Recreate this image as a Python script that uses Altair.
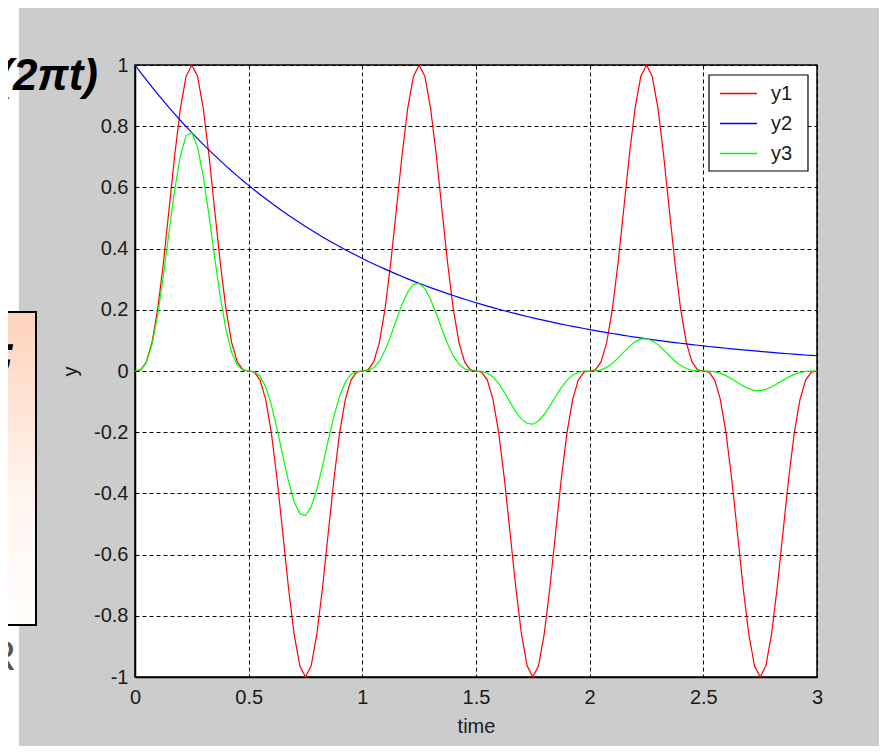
import altair as alt
import pandas as pd

# ---------------- data ----------------
time = [i / 40 for i in range(121)]  # sampling grid 0 .. 3 in steps of 0.025

y1 = [0, .0038, .0295, .0936, .2031, .3536, .5295, .7074, .8602, .9636, 1, .9636, .8602, .7074, .5295, .3536, .2031, .0936, .0295, .0038,
      0, -.0038, -.0295, -.0936, -.2031, -.3536, -.5295, -.7074, -.8602, -.9636, -1, -.9636, -.8602, -.7074, -.5295, -.3536, -.2031, -.0936, -.0295, -.0038,
      0, .0038, .0295, .0936, .2031, .3536, .5295, .7074, .8602, .9636, 1, .9636, .8602, .7074, .5295, .3536, .2031, .0936, .0295, .0038,
      0, -.0038, -.0295, -.0936, -.2031, -.3536, -.5295, -.7074, -.8602, -.9636, -1, -.9636, -.8602, -.7074, -.5295, -.3536, -.2031, -.0936, -.0295, -.0038,
      0, .0038, .0295, .0936, .2031, .3536, .5295, .7074, .8602, .9636, 1, .9636, .8602, .7074, .5295, .3536, .2031, .0936, .0295, .0038,
      0, -.0038, -.0295, -.0936, -.2031, -.3536, -.5295, -.7074, -.8602, -.9636, -1, -.9636, -.8602, -.7074, -.5295, -.3536, -.2031, -.0936, -.0295, -.0038,
      0]

y2 = [1.0, .9753, .9512, .9277, .9048, .8825, .8607, .8395, .8187, .7985, .7788, .7596, .7408, .7225, .7047, .6873, .6703, .6538, .6376, .6219,
      .6065, .5916, .5769, .5627, .5488, .5353, .5220, .5092, .4966, .4843, .4724, .4607, .4493, .4382, .4274, .4169, .4066, .3965, .3867, .3772,
      .3679, .3588, .3499, .3413, .3329, .3247, .3166, .3088, .3012, .2938, .2865, .2794, .2725, .2658, .2592, .2528, .2466, .2405, .2346, .2288,
      .2231, .2176, .2122, .2070, .2019, .1969, .1920, .1873, .1827, .1782, .1738, .1695, .1653, .1612, .1572, .1534, .1496, .1459, .1423, .1388,
      .1353, .1320, .1287, .1256, .1225, .1194, .1165, .1136, .1108, .1081, .1054, .1028, .1003, .0978, .0954, .0930, .0907, .0885, .0863, .0842,
      .0821, .0801, .0781, .0762, .0743, .0724, .0707, .0689, .0672, .0655, .0639, .0623, .0608, .0593, .0578, .0564, .0550, .0537, .0523, .0511,
      .0498]

y3 = [0, .0037, .0281, .0868, .1838, .3120, .4557, .5939, .7042, .7694, .7788, .7320, .6372, .5111, .3731, .2430, .1361, .0612, .0188, .0024,
      0, -.0022, -.0170, -.0527, -.1115, -.1893, -.2764, -.3602, -.4272, -.4667, -.4724, -.4439, -.3865, -.3100, -.2263, -.1474, -.0826, -.0371, -.0114, -.0014,
      0, .0014, .0103, .0319, .0676, .1148, .1677, .2185, .2591, .2831, .2865, .2693, .2344, .1880, .1373, .0894, .0501, .0225, .0069, .0009,
      0, -.0008, -.0063, -.0194, -.0410, -.0696, -.1017, -.1325, -.1572, -.1717, -.1738, -.1633, -.1422, -.1140, -.0833, -.0542, -.0304, -.0136, -.0042, -.0005,
      0, .0005, .0038, .0117, .0249, .0422, .0617, .0804, .0953, .1041, .1054, .0990, .0862, .0692, .0505, .0329, .0184, .0083, .0025, .0003,
      0, -.0003, -.0023, -.0071, -.0151, -.0256, -.0374, -.0487, -.0578, -.0631, -.0639, -.0601, -.0523, -.0419, -.0306, -.0199, -.0112, -.0050, -.0015, -.0002,
      0]

series_names = ["y1", "y2", "y3"]
series_colors = ["#ff0000", "#0000ff", "#00ff00"]
x_ticks = [0, 0.5, 1, 1.5, 2, 2.5, 3]
y_ticks = [-1, -0.8, -0.6, -0.4, -0.2, 0, 0.2, 0.4, 0.6, 0.8, 1]

rows = []
for name, vals in zip(series_names, [y1, y2, y3]):
    for t, v in zip(time, vals):
        rows.append({"time": t, "y": v, "series": name})
df = pd.DataFrame(rows)
deco = pd.DataFrame({"k": [0]})

W, H = 682, 612
FONT = "Liberation Sans, Arial, sans-serif"
TXT = "#1a1a1a"

lines = alt.Chart(df).mark_line(strokeWidth=1.2).encode(
    x=alt.X("time:Q",
            scale=alt.Scale(domain=[0, 3], nice=False, zero=False),
            axis=alt.Axis(values=x_ticks, title="time", labelExpr="format(datum.value, '~g')",
                          labelFlush=False, labelPadding=10, titleY=39)),
    y=alt.Y("y:Q",
            scale=alt.Scale(domain=[-1, 1], nice=False, zero=False),
            axis=alt.Axis(values=y_ticks, title="y",
                          labelExpr="abs(datum.value) < 1e-9 ? '0' : (datum.value < 0 ? '-' : '') + format(abs(datum.value), '~g')",
                          labelFlush=False, labelPadding=7, titleX=-55, titleY=306)),
    color=alt.Color("series:N",
                    scale=alt.Scale(domain=series_names, range=series_colors),
                    legend=alt.Legend(title=None, orient="none", legendX=581, legendY=6,
                                      direction="vertical", symbolType="stroke", symbolSize=1369,
                                      symbolStrokeWidth=1.5, labelFontSize=20, labelFont=FONT,
                                      labelColor=TXT, rowPadding=0, labelOffset=13)),
)

# legend frame (MATLAB style box behind the legend entries)
legend_box = alt.Chart(deco).mark_rect(fill="white", stroke="black", strokeWidth=1.2).encode(
    x=alt.value(574), x2=alt.value(673), y=alt.value(10), y2=alt.value(106))

# slide fragments around the figure window
white_strip = alt.Chart(deco).mark_rect(color="white").encode(
    x=alt.value(-127), x2=alt.value(-116), y=alt.value(-57), y2=alt.value(690))

grad = alt.LinearGradient(gradient="linear", x1=0, y1=0, x2=0, y2=1,
                          stops=[alt.GradientStop(color="#fdd2ba", offset=0),
                                 alt.GradientStop(color="#fff6f1", offset=0.6),
                                 alt.GradientStop(color="#fffdfc", offset=1)])
box = alt.Chart(deco).mark_rect(fill=grad, stroke="black", strokeWidth=2).encode(
    x=alt.value(-145), x2=alt.value(-99), y=alt.value(247), y2=alt.value(560))

eq_text = alt.Chart(deco).mark_text(text="(2πt)", font=FONT, fontSize=44, fontWeight="bold",
                                    fontStyle="italic", align="right", baseline="alphabetic",
                                    color="black").encode(x=alt.value(-37), y=alt.value(25))
semi_text = alt.Chart(deco).mark_text(text=");", font=FONT, fontSize=40, fontWeight="bold",
                                      fontStyle="italic", align="right", baseline="alphabetic",
                                      color="black").encode(x=alt.value(-120), y=alt.value(300))
r_text = alt.Chart(deco).mark_text(text="R", font=FONT, fontSize=42, align="right",
                                   baseline="alphabetic", color="#555555").encode(
    x=alt.value(-119), y=alt.value(605))

chart = alt.layer(white_strip, box, eq_text, semi_text, r_text, lines, legend_box).properties(
    width=W, height=H,
    title=alt.TitleParams("Exercise 1", font=FONT, fontSize=20, fontWeight="normal",
                          color=TXT, offset=18, anchor="middle"),
    autosize=alt.AutoSizeParams(type="none"),
    padding={"left": 127, "top": 57, "right": 62, "bottom": 69},
    background="#cccccc",
).configure_view(
    fill="white", stroke="black", strokeWidth=1.5
).configure_axis(
    domainColor="black", domainWidth=1.5, gridColor="black", gridDash=[4, 3], gridWidth=1,
    gridOpacity=1, ticks=False, labelFont=FONT, labelFontSize=20, labelColor=TXT,
    titleFont=FONT, titleFontSize=20, titleFontWeight="normal", titleColor=TXT,
).configure_legend(
    fillColor="transparent", strokeColor="transparent", cornerRadius=0, padding=3,
)

chart.save("out.html", embed_options={"renderer": "svg", "actions": False})
